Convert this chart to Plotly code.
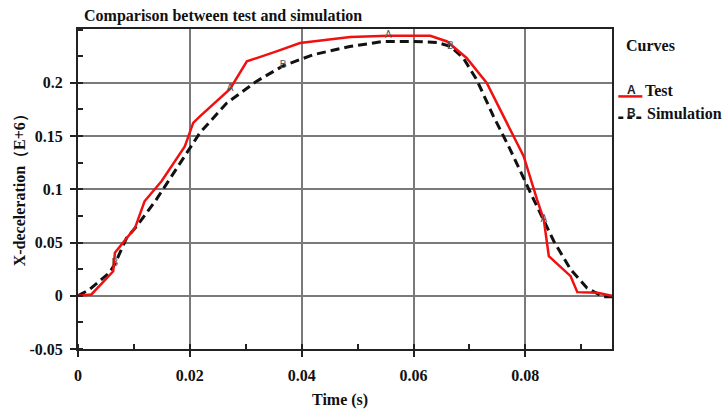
import plotly.graph_objects as go

# ---- data ----
test_x = [0, 0.0024, 0.0063, 0.0066, 0.0102, 0.0119, 0.0150, 0.0191, 0.0206, 0.0218,
          0.0272, 0.0302, 0.0355, 0.0397, 0.0457, 0.0487, 0.0555, 0.0630, 0.0660, 0.0695,
          0.0731, 0.0779, 0.0797, 0.0821, 0.0833, 0.0842, 0.0881, 0.0893, 0.0929, 0.0955]
test_y = [0, 0.0012, 0.023, 0.0403, 0.0638, 0.0887, 0.108, 0.1403, 0.1623, 0.1685,
          0.1942, 0.2201, 0.2295, 0.2373, 0.2411, 0.2430, 0.2442, 0.2442, 0.2388, 0.2233,
          0.1998, 0.1497, 0.1310, 0.0903, 0.0716, 0.0372, 0.0184, 0.0034, 0.0028, 0.0]
test_label_idx = [10, 16, 24]

sim_x = [0, 0.0021, 0.0057, 0.0066, 0.0087, 0.0105, 0.0140, 0.0197, 0.0218, 0.0266,
         0.0319, 0.0367, 0.0421, 0.0486, 0.0546, 0.0600, 0.0642, 0.0666, 0.0689, 0.0713,
         0.0743, 0.0773, 0.0803, 0.0815, 0.0851, 0.0881, 0.0910, 0.0939, 0.0955]
sim_y = [0, 0.006, 0.022, 0.030, 0.0544, 0.0653, 0.0903, 0.1357, 0.1530, 0.1810,
         0.2013, 0.2160, 0.2264, 0.2341, 0.2388, 0.2388, 0.2379, 0.2341, 0.2233, 0.2029,
         0.1685, 0.1373, 0.1028, 0.0903, 0.0512, 0.0247, 0.0075, -0.001, -0.001]
sim_label_idx = [3, 11, 17]

x_tickvals = [0, 0.02, 0.04, 0.06, 0.08]
x_ticktext = ["0", "0.02", "0.04", "0.06", "0.08"]
y_tickvals = [-0.05, 0, 0.05, 0.1, 0.15, 0.2]
y_ticktext = ["-0.05", "0", "0.05", "0.1", "0.15", "0.2"]

title_text = "Comparison between test and simulation"
x_title = "Time (s)"
y_title = "X-deceleration（E+6）"
legend_title = "Curves"
series_names = ["Test", "Simulation"]
series_letters = ["A", "B"]

# ---- layout geometry (pixels) ----
W, H = 727, 411
L, R, T, B = 78.3, 611.7, 29.3, 349.3

def px(xp):
    return (xp - L) / (R - L)

def py(yp):
    return (B - yp) / (B - T)

FONT = "Liberation Serif, Times New Roman, serif"
RED = "#f01010"
BLACK = "#111111"

fig = go.Figure()
fig.add_trace(go.Scatter(x=sim_x, y=sim_y, mode="lines",
                         line=dict(color=BLACK, width=3, dash="9px,5px"),
                         hoverinfo="skip", showlegend=False))
fig.add_trace(go.Scatter(x=test_x, y=test_y, mode="lines",
                         line=dict(color=RED, width=2.5),
                         hoverinfo="skip", showlegend=False))
fig.add_trace(go.Scatter(x=[test_x[i] for i in test_label_idx],
                         y=[test_y[i] for i in test_label_idx],
                         mode="text", text=[series_letters[0]] * len(test_label_idx),
                         textfont=dict(family="Liberation Sans, Arial", size=10, color="#555"),
                         hoverinfo="skip", showlegend=False))
fig.add_trace(go.Scatter(x=[sim_x[i] for i in sim_label_idx],
                         y=[sim_y[i] for i in sim_label_idx],
                         mode="text", text=[series_letters[1]] * len(sim_label_idx),
                         textfont=dict(family="Liberation Sans, Arial", size=10, color="#555"),
                         hoverinfo="skip", showlegend=False))

axis_common = dict(
    showline=True, linecolor="#222", linewidth=2, mirror=True,
    showgrid=True, gridcolor="#7a7a7a", gridwidth=1.5, zeroline=False,
    ticks="outside", ticklen=6, tickwidth=2, tickcolor="#222",
    tickfont=dict(family=FONT, size=16, color="#111", weight="bold"),
    tickmode="array",
)

fig.update_layout(
    width=W, height=H,
    margin=dict(l=L, r=W - R, t=T, b=H - B, pad=0),
    paper_bgcolor="white", plot_bgcolor="white",
    showlegend=False,
    font=dict(family=FONT, color="#111"),
    xaxis=dict(range=[0, 0.0955], tickvals=x_tickvals, ticktext=x_ticktext,
               ticklabelstandoff=5,
               minor=dict(tick0=0, dtick=0.01, ticks="inside", ticklen=5,
                          tickwidth=2, tickcolor="#222", showgrid=False),
               **axis_common),
    yaxis=dict(range=[-0.05, 0.2505], tickvals=y_tickvals, ticktext=y_ticktext,
               ticklabelstandoff=4,
               minor=dict(tick0=-0.05, dtick=0.025, ticks="inside", ticklen=5,
                          tickwidth=2, tickcolor="#222", showgrid=False),
               **axis_common),
)

bold = dict(family=FONT, color="#111", weight="bold")
ann = []
ann.append(dict(x=px(82), y=py(16), xref="paper", yref="paper", xanchor="left", yanchor="middle",
                text=title_text, showarrow=False, font=dict(size=16, **bold)))
ann.append(dict(x=px(340), y=py(400), xref="paper", yref="paper", xanchor="center", yanchor="middle",
                text=x_title, showarrow=False, font=dict(size=16, **bold)))
ann.append(dict(x=px(20), y=py(187), xref="paper", yref="paper", xanchor="center", yanchor="middle",
                text=y_title, textangle=-90, showarrow=False, font=dict(size=16, **bold)))
ann.append(dict(x=px(624), y=py(46), xref="paper", yref="paper", xanchor="left", yanchor="middle",
                text=legend_title, showarrow=False, font=dict(size=16, **bold)))
# legend entries
leg_rows = [(91, 96.7, RED, "solid"), (114, 118, BLACK, "5px,4px")]
shapes = []
for (ty, ly, col, dash), name, letter in zip(leg_rows, series_names, series_letters):
    shapes.append(dict(type="line", xref="paper", yref="paper",
                       x0=px(618), x1=px(642), y0=py(ly), y1=py(ly),
                       line=dict(color=col, width=2.5, dash=dash)))
    ann.append(dict(x=px(631), y=py(ty - 1), xref="paper", yref="paper",
                    xanchor="center", yanchor="middle", text=letter, showarrow=False,
                    font=dict(family="Liberation Sans, Arial", size=12, color="#222", weight="bold")))
    ann.append(dict(x=px(643 if name == "Test" else 645), y=py(ty), xref="paper", yref="paper",
                    xanchor="left", yanchor="middle", text=name, showarrow=False,
                    font=dict(size=16, **bold)))

fig.update_layout(annotations=ann, shapes=shapes)
fig.write_html("out.html", config={"displayModeBar": False},
               post_script="document.body.style.margin='0';document.body.style.padding='0';")
